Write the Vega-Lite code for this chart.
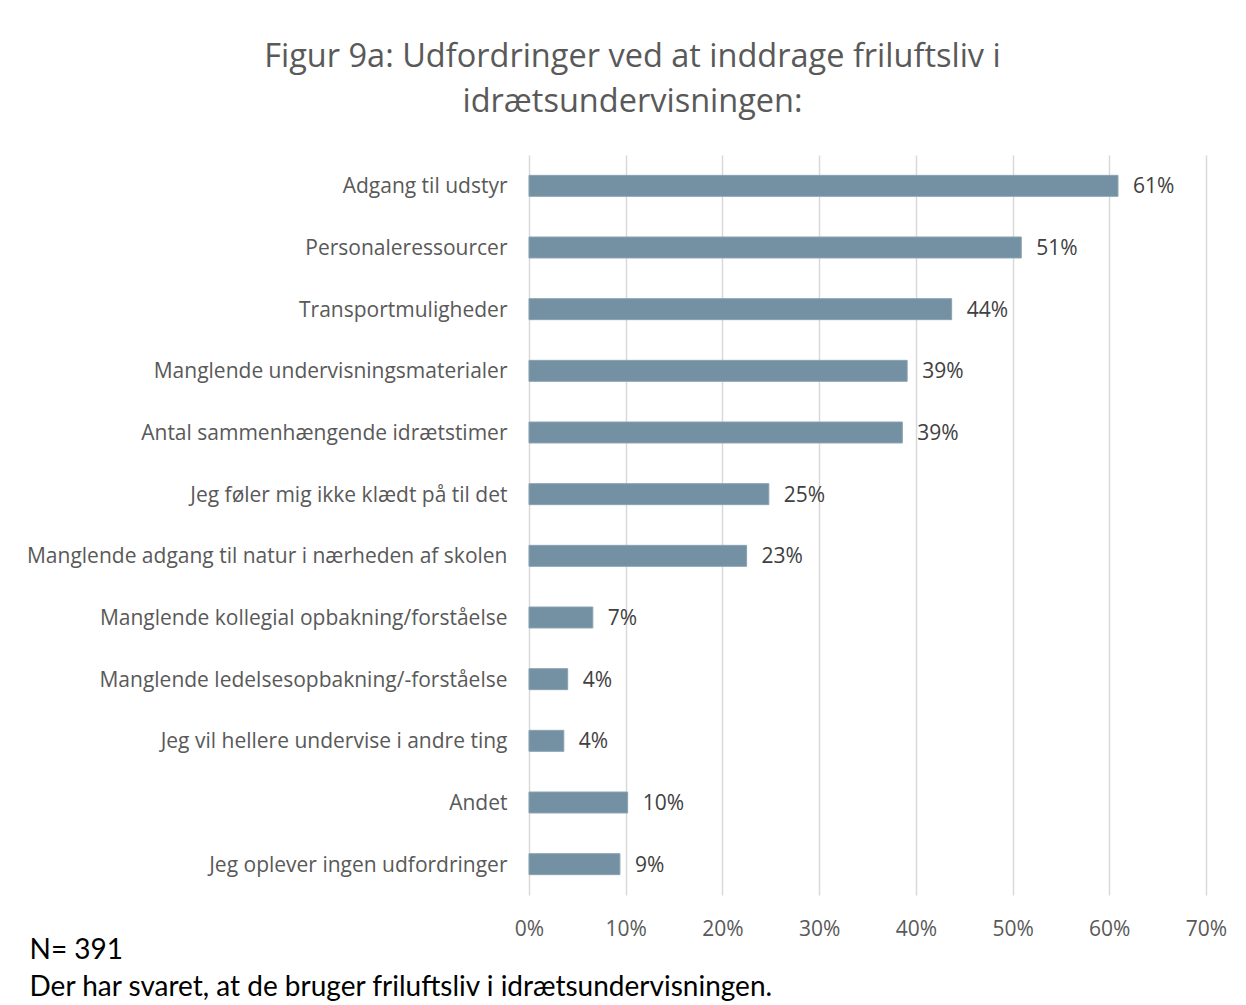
{
  "$schema": "https://vega.github.io/schema/vega-lite/v6.json",
  "width": 677,
  "height": 740,
  "autosize": {"type": "none"},
  "padding": {"left": 529, "top": 155, "right": 40, "bottom": 110},
  "background": "white",
  "title": {
    "text": ["Figur 9a: Udfordringer ved at inddrage friluftsliv i", "idrætsundervisningen:"],
    "anchor": "middle",
    "dx": -235,
    "offset": 37,
    "font": "Open Sans",
    "fontSize": 32.5,
    "fontWeight": "normal",
    "color": "#595959",
    "lineHeight": 45
  },
  "data": {
    "values": [
      {"kategori": "Adgang til udstyr", "andel": 0.609, "label": "61%"},
      {"kategori": "Personaleressourcer", "andel": 0.509, "label": "51%"},
      {"kategori": "Transportmuligheder", "andel": 0.437, "label": "44%"},
      {"kategori": "Manglende undervisningsmaterialer", "andel": 0.391, "label": "39%"},
      {"kategori": "Antal sammenhængende idrætstimer", "andel": 0.386, "label": "39%"},
      {"kategori": "Jeg føler mig ikke klædt på til det", "andel": 0.248, "label": "25%"},
      {"kategori": "Manglende adgang til natur i nærheden af skolen", "andel": 0.225, "label": "23%"},
      {"kategori": "Manglende kollegial opbakning/forståelse", "andel": 0.066, "label": "7%"},
      {"kategori": "Manglende ledelsesopbakning/-forståelse", "andel": 0.040, "label": "4%"},
      {"kategori": "Jeg vil hellere undervise i andre ting", "andel": 0.036, "label": "4%"},
      {"kategori": "Andet", "andel": 0.102, "label": "10%"},
      {"kategori": "Jeg oplever ingen udfordringer", "andel": 0.094, "label": "9%"}
    ]
  },
  "encoding": {
    "y": {
      "field": "kategori",
      "type": "nominal",
      "sort": null,
      "scale": {"paddingInner": 0.66, "paddingOuter": 0.33},
      "axis": {
        "title": null,
        "ticks": false,
        "domain": false,
        "grid": false,
        "labelPadding": 22,
        "labelOffset": 1.5,
        "labelFont": "Open Sans",
        "labelFontSize": 21,
        "labelColor": "#595959",
        "labelLimit": 600
      }
    },
    "x": {
      "field": "andel",
      "type": "quantitative",
      "scale": {"domain": [0, 0.7], "nice": false},
      "axis": {
        "values": [0, 0.1, 0.2, 0.3, 0.4, 0.5, 0.6, 0.7],
        "format": ".0%",
        "ticks": false,
        "domain": false,
        "grid": true,
        "gridColor": "#d9d9d9",
        "gridWidth": 1.5,
        "labelFlush": false,
        "labelPadding": 23,
        "labelFont": "Open Sans",
        "labelFontSize": 21,
        "labelColor": "#595959",
        "title": ["N= 391", "Der har svaret, at de bruger friluftsliv i idrætsundervisningen."],
        "titleFont": "Lato",
        "titleFontSize": 28,
        "titleFontWeight": "normal",
        "titleColor": "#000000",
        "titleAnchor": "start",
        "titleAlign": "left",
        "titleBaseline": "alphabetic",
        "titleX": -500,
        "titleY": 63,
        "titleLineHeight": 37
      }
    }
  },
  "layer": [
    {
      "mark": {"type": "bar", "color": "#7490a3", "stroke": "#8aa2b3", "strokeWidth": 1}
    },
    {
      "mark": {"type": "text", "align": "left", "baseline": "middle", "dx": 15, "dy": 1.5, "font": "Open Sans", "fontSize": 21, "color": "#404040"},
      "encoding": {"text": {"field": "label"}}
    }
  ],
  "config": {"view": {"stroke": null}}
}
